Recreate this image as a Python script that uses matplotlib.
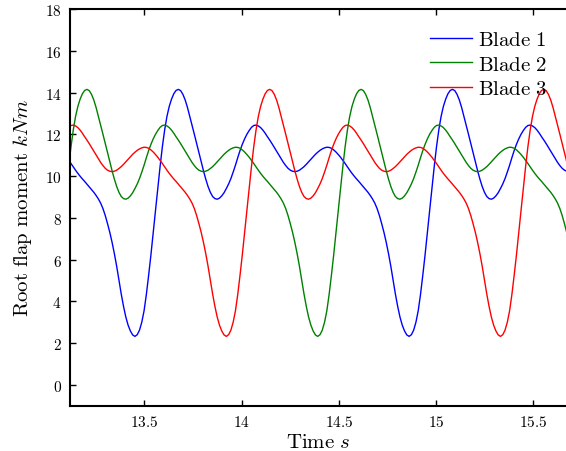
import numpy as np
import matplotlib
matplotlib.use("Agg")
import matplotlib.pyplot as plt
from matplotlib.ticker import FuncFormatter, FixedLocator

plt.rcParams['mathtext.fontset'] = 'cm'
plt.rcParams['font.family'] = ['DejaVu Serif']

# ---- data ----
# sample times (s): uniform record, 0.01175 s apart, from 13.0985 s to 15.6835 s
time_s = np.round(13.0985 + 0.01175 * np.arange(221), 5)

# root flap moment (kNm) of each blade at those times
blade1_m = [
    10.90, 10.75, 10.60, 10.44, 10.28, 10.13, 9.99, 9.86, 9.74, 9.61,
    9.48, 9.35, 9.22, 9.07, 8.90, 8.70, 8.44, 8.11, 7.72, 7.30,
    6.82, 6.28, 5.68, 5.01, 4.35, 3.76, 3.25, 2.86, 2.58, 2.39,
    2.32, 2.40, 2.62, 3.00, 3.55, 4.33, 5.25, 6.23, 7.27, 8.35,
    9.42, 10.45, 11.40, 12.20, 12.85, 13.33, 13.68, 13.94, 14.10, 14.15,
    14.09, 13.91, 13.64, 13.28, 12.86, 12.44, 12.00, 11.56, 11.12, 10.68,
    10.25, 9.85, 9.50, 9.22, 9.02, 8.92, 8.89, 8.94, 9.05, 9.20,
    9.40, 9.62, 9.88, 10.19, 10.52, 10.88, 11.22, 11.52, 11.78, 12.00,
    12.18, 12.33, 12.42, 12.44, 12.40, 12.32, 12.20, 12.05, 11.88, 11.72,
    11.55, 11.37, 11.18, 11.00, 10.82, 10.65, 10.50, 10.37, 10.28, 10.23,
    10.21, 10.23, 10.28, 10.36, 10.45, 10.56, 10.68, 10.80, 10.92, 11.04,
    11.14, 11.23, 11.30, 11.35, 11.38, 11.37, 11.33, 11.25, 11.15, 11.03,
    10.90, 10.75, 10.60, 10.44, 10.28, 10.13, 9.99, 9.86, 9.74, 9.61,
    9.48, 9.35, 9.22, 9.07, 8.90, 8.70, 8.44, 8.11, 7.72, 7.30,
    6.82, 6.28, 5.68, 5.01, 4.35, 3.76, 3.25, 2.86, 2.58, 2.39,
    2.32, 2.40, 2.62, 3.00, 3.55, 4.33, 5.25, 6.23, 7.27, 8.35,
    9.42, 10.45, 11.40, 12.20, 12.85, 13.33, 13.68, 13.94, 14.10, 14.15,
    14.09, 13.91, 13.64, 13.28, 12.86, 12.44, 12.00, 11.56, 11.12, 10.68,
    10.25, 9.85, 9.50, 9.22, 9.02, 8.92, 8.89, 8.94, 9.05, 9.20,
    9.40, 9.62, 9.88, 10.19, 10.52, 10.88, 11.22, 11.52, 11.78, 12.00,
    12.18, 12.33, 12.42, 12.44, 12.40, 12.32, 12.20, 12.05, 11.88, 11.72,
    11.55, 11.37, 11.18, 11.00, 10.82, 10.65, 10.50, 10.37, 10.28, 10.23,
    10.21]

blade2_m = [
    9.42, 10.45, 11.40, 12.20, 12.85, 13.33, 13.68, 13.94, 14.10, 14.15,
    14.09, 13.91, 13.64, 13.28, 12.86, 12.44, 12.00, 11.56, 11.12, 10.68,
    10.25, 9.85, 9.50, 9.22, 9.02, 8.92, 8.89, 8.94, 9.05, 9.20,
    9.40, 9.62, 9.88, 10.19, 10.52, 10.88, 11.22, 11.52, 11.78, 12.00,
    12.18, 12.33, 12.42, 12.44, 12.40, 12.32, 12.20, 12.05, 11.88, 11.72,
    11.55, 11.37, 11.18, 11.00, 10.82, 10.65, 10.50, 10.37, 10.28, 10.23,
    10.21, 10.23, 10.28, 10.36, 10.45, 10.56, 10.68, 10.80, 10.92, 11.04,
    11.14, 11.23, 11.30, 11.35, 11.38, 11.37, 11.33, 11.25, 11.15, 11.03,
    10.90, 10.75, 10.60, 10.44, 10.28, 10.13, 9.99, 9.86, 9.74, 9.61,
    9.48, 9.35, 9.22, 9.07, 8.90, 8.70, 8.44, 8.11, 7.72, 7.30,
    6.82, 6.28, 5.68, 5.01, 4.35, 3.76, 3.25, 2.86, 2.58, 2.39,
    2.32, 2.40, 2.62, 3.00, 3.55, 4.33, 5.25, 6.23, 7.27, 8.35,
    9.42, 10.45, 11.40, 12.20, 12.85, 13.33, 13.68, 13.94, 14.10, 14.15,
    14.09, 13.91, 13.64, 13.28, 12.86, 12.44, 12.00, 11.56, 11.12, 10.68,
    10.25, 9.85, 9.50, 9.22, 9.02, 8.92, 8.89, 8.94, 9.05, 9.20,
    9.40, 9.62, 9.88, 10.19, 10.52, 10.88, 11.22, 11.52, 11.78, 12.00,
    12.18, 12.33, 12.42, 12.44, 12.40, 12.32, 12.20, 12.05, 11.88, 11.72,
    11.55, 11.37, 11.18, 11.00, 10.82, 10.65, 10.50, 10.37, 10.28, 10.23,
    10.21, 10.23, 10.28, 10.36, 10.45, 10.56, 10.68, 10.80, 10.92, 11.04,
    11.14, 11.23, 11.30, 11.35, 11.38, 11.37, 11.33, 11.25, 11.15, 11.03,
    10.90, 10.75, 10.60, 10.44, 10.28, 10.13, 9.99, 9.86, 9.74, 9.61,
    9.48, 9.35, 9.22, 9.07, 8.90, 8.70, 8.44, 8.11, 7.72, 7.30,
    6.82]

blade3_m = [
    12.18, 12.33, 12.42, 12.44, 12.40, 12.32, 12.20, 12.05, 11.88, 11.72,
    11.55, 11.37, 11.18, 11.00, 10.82, 10.65, 10.50, 10.37, 10.28, 10.23,
    10.21, 10.23, 10.28, 10.36, 10.45, 10.56, 10.68, 10.80, 10.92, 11.04,
    11.14, 11.23, 11.30, 11.35, 11.38, 11.37, 11.33, 11.25, 11.15, 11.03,
    10.90, 10.75, 10.60, 10.44, 10.28, 10.13, 9.99, 9.86, 9.74, 9.61,
    9.48, 9.35, 9.22, 9.07, 8.90, 8.70, 8.44, 8.11, 7.72, 7.30,
    6.82, 6.28, 5.68, 5.01, 4.35, 3.76, 3.25, 2.86, 2.58, 2.39,
    2.32, 2.40, 2.62, 3.00, 3.55, 4.33, 5.25, 6.23, 7.27, 8.35,
    9.42, 10.45, 11.40, 12.20, 12.85, 13.33, 13.68, 13.94, 14.10, 14.15,
    14.09, 13.91, 13.64, 13.28, 12.86, 12.44, 12.00, 11.56, 11.12, 10.68,
    10.25, 9.85, 9.50, 9.22, 9.02, 8.92, 8.89, 8.94, 9.05, 9.20,
    9.40, 9.62, 9.88, 10.19, 10.52, 10.88, 11.22, 11.52, 11.78, 12.00,
    12.18, 12.33, 12.42, 12.44, 12.40, 12.32, 12.20, 12.05, 11.88, 11.72,
    11.55, 11.37, 11.18, 11.00, 10.82, 10.65, 10.50, 10.37, 10.28, 10.23,
    10.21, 10.23, 10.28, 10.36, 10.45, 10.56, 10.68, 10.80, 10.92, 11.04,
    11.14, 11.23, 11.30, 11.35, 11.38, 11.37, 11.33, 11.25, 11.15, 11.03,
    10.90, 10.75, 10.60, 10.44, 10.28, 10.13, 9.99, 9.86, 9.74, 9.61,
    9.48, 9.35, 9.22, 9.07, 8.90, 8.70, 8.44, 8.11, 7.72, 7.30,
    6.82, 6.28, 5.68, 5.01, 4.35, 3.76, 3.25, 2.86, 2.58, 2.39,
    2.32, 2.40, 2.62, 3.00, 3.55, 4.33, 5.25, 6.23, 7.27, 8.35,
    9.42, 10.45, 11.40, 12.20, 12.85, 13.33, 13.68, 13.94, 14.10, 14.15,
    14.09, 13.91, 13.64, 13.28, 12.86, 12.44, 12.00, 11.56, 11.12, 10.68,
    10.25]

series_labels = [r'$\mathrm{Blade\ 1}$', r'$\mathrm{Blade\ 2}$', r'$\mathrm{Blade\ 3}$']
x_ticks = [13.5, 14, 14.5, 15, 15.5]
y_ticks = [0, 2, 4, 6, 8, 10, 12, 14, 16, 18]

fig = plt.figure(figsize=(5.66, 4.52), dpi=100)
ax = fig.add_axes([70/566, 45.3/452, 496/566, 396.7/452])

ax.plot(time_s, blade1_m, color='#0000ff', lw=1.0, label=series_labels[0])
ax.plot(time_s, blade2_m, color='#008000', lw=1.0, label=series_labels[1])
ax.plot(time_s, blade3_m, color='#ff0000', lw=1.0, label=series_labels[2])

ax.set_xlim(13.117, 15.668)
ax.set_ylim(-1, 18)
ax.xaxis.set_major_locator(FixedLocator(x_ticks))
ax.yaxis.set_major_locator(FixedLocator(y_ticks))
ax.xaxis.set_major_formatter(FuncFormatter(lambda v, p: r'$%g$' % v))
ax.yaxis.set_major_formatter(FuncFormatter(lambda v, p: r'$%g$' % v))
ax.tick_params(direction='in', length=4, width=1, labelsize=11, top=True, right=False, pad=6)

for s in ['left', 'bottom', 'top']:
    ax.spines[s].set_linewidth(1.5)
ax.spines['right'].set_visible(False)

ax.set_xlabel(r'$\mathrm{Time}\ s$', fontsize=15, labelpad=2)
ax.set_ylabel(r'$\mathrm{Root\ flap\ moment}\ kNm$', fontsize=15, labelpad=8)

leg = ax.legend(loc='upper left', bbox_to_anchor=(424/566, 1 - 25/452), bbox_transform=fig.transFigure,
                frameon=False, fontsize=15, handlelength=2.0, handletextpad=0.3, labelspacing=0.26,
                borderaxespad=0, borderpad=0.3)

fig.savefig('out.png', dpi=100)
